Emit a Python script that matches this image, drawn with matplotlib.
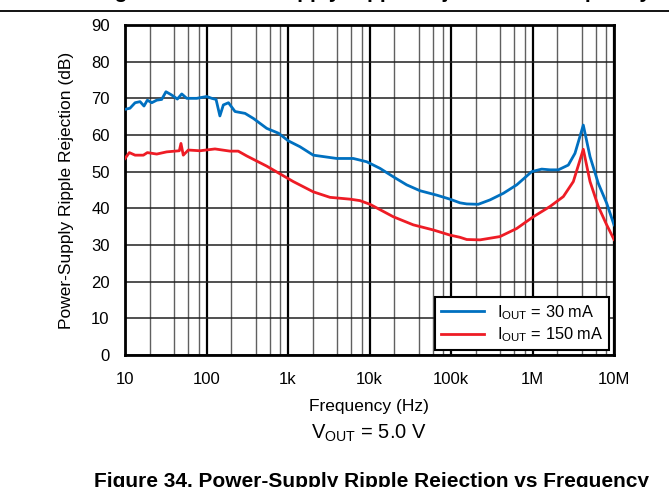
import numpy as np
import matplotlib.pyplot as plt
from matplotlib.ticker import FixedLocator, NullFormatter

plt.rcParams['font.family'] = ['Liberation Sans', 'DejaVu Sans']
plt.rcParams['mathtext.fontset'] = 'custom'
plt.rcParams['mathtext.rm'] = 'Liberation Sans'

# IOUT = 30 mA
freq_30 = [10, 11.5, 13.3, 15.3, 17.1, 18.8, 21.3, 24.5, 28.2, 31.8, 37.4, 43.9,
           49.7, 57.2, 75.8, 100.6, 116, 131, 146, 161, 186, 224, 297, 377, 549,
           763, 1010, 1403, 2042, 3963, 6324, 9244, 13450, 19600, 28600, 41700,
           66800, 97200, 128900, 156000, 216000, 301000, 439000, 640000, 977000,
           1297000, 1640000, 2074000, 2750000, 3320000, 4200000, 5080000, 6420000,
           8130000, 10000000]
psrr_30 = [67.0, 67.3, 68.8, 69.1, 67.9, 69.5, 68.8, 69.5, 69.7, 71.8, 70.9, 69.8,
           71.2, 70.0, 70.0, 70.5, 70.0, 69.7, 65.2, 68.2, 68.8, 66.4, 65.9, 64.5, 61.8,
           60.5, 58.4, 56.8, 54.5, 53.6, 53.6, 52.7, 50.9, 48.6, 46.4, 44.8,
           43.6, 42.5, 41.5, 41.2, 41.1, 42.3, 44.1, 46.4, 50.0,
           50.7, 50.5, 50.5, 51.8, 55.0, 62.7, 54.1, 46.8,
           41.4, 35.5]

# IOUT = 150 mA
freq_150 = [10, 11.3, 13.3, 16.8, 18.8, 24.5, 32.5, 41.1, 46.4, 48.6, 51.9, 59.8,
            83.2, 127, 194, 245, 311, 549, 798, 1161, 2042, 3273, 5767, 7640, 10140,
            19600, 34400, 60700, 97200, 128900, 156000, 227000, 399000, 640000,
            1023000, 1640000, 2390000, 3170000, 4200000, 5080000, 6420000, 8130000,
            10000000]
psrr_150 = [53.6, 55.2, 54.5, 54.5, 55.2, 54.8, 55.4, 55.6, 55.7, 57.7, 54.5, 55.9,
            55.7, 56.2, 55.6, 55.6, 54.3, 51.5, 49.4, 47.3, 44.5, 43.0, 42.5, 42.1, 41.1,
            37.7, 35.5, 34.1, 32.7, 32.1, 31.5, 31.4, 32.3, 34.5,
            37.7, 40.5, 43.2, 47.3, 56.1, 47.3, 40.5, 35.5,
            31.5]

xticks = [10, 100, 1e3, 1e4, 1e5, 1e6, 1e7]
xtick_labels = ['10', '100', '1k', '10k', '100k', '1M', '10M']

fig = plt.figure(figsize=(6.69, 4.87), dpi=100)
ax = fig.add_axes([125/669, 1-355/487, (614-125)/669, (355-25)/487])

ax.plot(freq_30, psrr_30, color='#0070C0', lw=2.0, label=r'I$_{\mathregular{OUT}}$ = 30 mA', zorder=3)
ax.plot(freq_150, psrr_150, color='#EE1C25', lw=2.0, label=r'I$_{\mathregular{OUT}}$ = 150 mA', zorder=3)

ax.set_xscale('log')
ax.set_xlim(10, 1e7)
ax.set_ylim(0, 90)
ax.set_yticks(np.arange(0, 91, 10))
ax.xaxis.set_major_locator(FixedLocator(xticks))
ax.set_xticklabels(xtick_labels)
minors = [m * 10**d for d in range(1, 7) for m in (2, 4, 6, 8)]
ax.xaxis.set_minor_locator(FixedLocator(minors))
ax.xaxis.set_minor_formatter(NullFormatter())

ax.grid(True, which='major', axis='x', color='black', lw=1.6)
ax.grid(True, which='minor', axis='x', color='#606060', lw=1.0)
ax.grid(True, which='major', axis='y', color='#202020', lw=1.1)
ax.tick_params(which='both', length=0, labelsize=12, pad=12)
ax.tick_params(axis='y', pad=11)
for s in ax.spines.values():
    s.set_linewidth(2)

ax.set_ylabel('Power-Supply Ripple Rejection (dB)', fontsize=12.5, labelpad=12)

leg = ax.legend(loc='lower right', fontsize=11.8, frameon=True, fancybox=False,
                edgecolor='black', framealpha=1, borderaxespad=0.3,
                handlelength=2.6, borderpad=0.35, labelspacing=0.25)
leg.get_frame().set_linewidth(1.5)

fig.text(369/669, 1-406/487, 'Frequency (Hz)', ha='center', va='center', fontsize=12.5)
fig.text(369/669, 1-433/487, r'V$_{\mathregular{OUT}}$ = 5.0 V', ha='center', va='center', fontsize=14.5)

# captions cut by the page edges
fig.text(371/669, 1-487/487, 'Figure 34. Power-Supply Ripple Rejection vs Frequency',
         ha='center', va='baseline', fontsize=15, fontweight='bold')
fig.text(373/669, 1-(-2)/487, 'Figure 33. Power-Supply Ripple Rejection vs Frequency',
         ha='center', va='baseline', fontsize=15, fontweight='bold')
fig.add_artist(plt.Line2D([0, 1], [1-11/487, 1-11/487], color='black', lw=1.3,
                          transform=fig.transFigure))

fig.savefig('out.png', dpi=100)
